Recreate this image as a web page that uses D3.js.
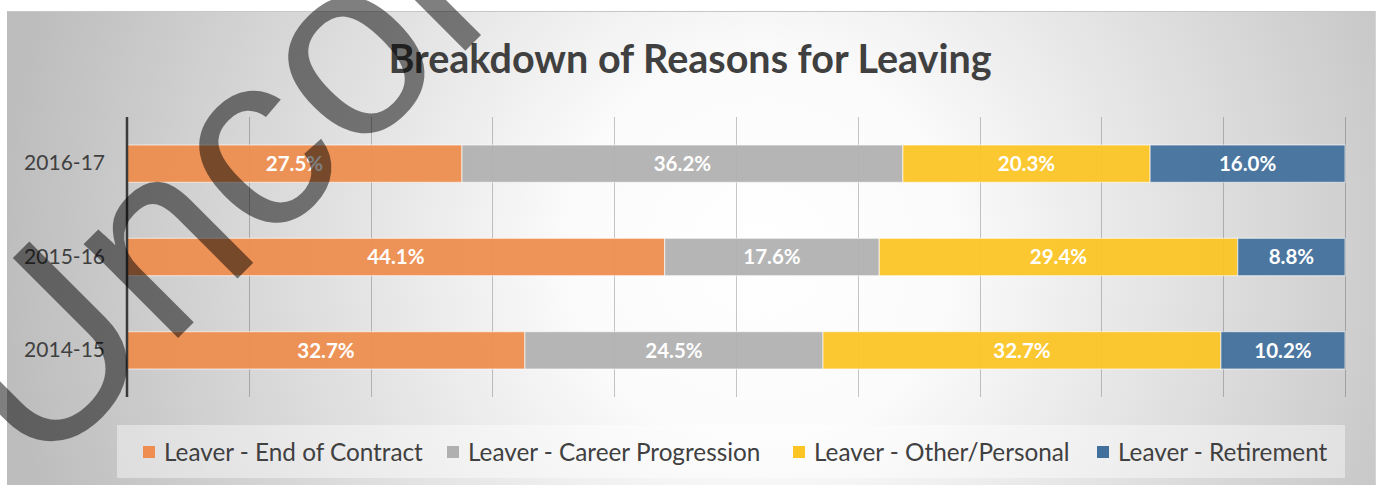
<!DOCTYPE html>
<html>
<head>
<meta charset="utf-8">
<script src="https://cdn.jsdelivr.net/npm/d3@7"></script>
<style>
  html, body { margin: 0; padding: 0; background: #ffffff; }
  svg { display: block; }
</style>
</head>
<body>
<svg id="chart" width="1379" height="485"></svg>
<script>
// ---- data ----
const categories = ["2016-17", "2015-16", "2014-15"];
const seriesNames = ["Leaver - End of Contract", "Leaver - Career Progression", "Leaver - Other/Personal", "Leaver - Retirement"];
const endOfContract = [27.5, 44.1, 32.7];
const careerProgression = [36.2, 17.6, 24.5];
const otherPersonal = [20.3, 29.4, 32.7];
const retirement = [16.0, 8.8, 10.2];
const gridTicks = [0, 0.1, 0.2, 0.3, 0.4, 0.5, 0.6, 0.7, 0.8, 0.9, 1.0];
const titleText = "Breakdown of Reasons for Leaving";
const watermarkText = "Uncontrolled";

const colors = ["#EE8D4F", "#B0B0B0", "#FCC524", "#41709C"];
const seriesValues = [endOfContract, careerProgression, otherPersonal, retirement];

const rows = categories.map((c, i) => {
  const r = { category: c };
  seriesNames.forEach((s, j) => r[s] = seriesValues[j][i]);
  return r;
});

const stacked = d3.stack().keys(seriesNames).offset(d3.stackOffsetExpand)(rows);

const svg = d3.select("#chart");
const W = 1379, H = 485;
const font = "Lato, 'Open Sans', sans-serif";

// background
const defs = svg.append("defs");
const grad = defs.append("radialGradient")
  .attr("id", "bg").attr("gradientUnits", "userSpaceOnUse")
  .attr("cx", 760).attr("cy", 250).attr("r", 760);
grad.append("stop").attr("offset", "0").attr("stop-color", "#ffffff");
grad.append("stop").attr("offset", "0.25").attr("stop-color", "#fbfbfb");
grad.append("stop").attr("offset", "1").attr("stop-color", "#bdbdbd");

svg.append("rect").attr("x", 7).attr("y", 11).attr("width", 1368).attr("height", H - 11)
  .attr("fill", "url(#bg)");
svg.append("line").attr("x1", 7).attr("x2", 1375).attr("y1", 11.5).attr("y2", 11.5)
  .attr("stroke", "#c6c6c6").attr("stroke-width", 1);
svg.append("line").attr("x1", 1375.5).attr("x2", 1375.5).attr("y1", 11).attr("y2", H)
  .attr("stroke", "#d4d4d4").attr("stroke-width", 1);

// scales
const x = d3.scaleLinear().domain([0, 1]).range([127, 1345]);
const y = d3.scaleBand().domain(categories).range([117, 397]).paddingInner(0.6).paddingOuter(0.3);

// gridlines
svg.append("g").selectAll("line").data(gridTicks.slice(1)).join("line")
  .attr("x1", d => Math.round(x(d)) + 0.5).attr("x2", d => Math.round(x(d)) + 0.5)
  .attr("y1", 117).attr("y2", 397)
  .attr("stroke", "rgba(0,0,0,0.22)").attr("stroke-width", 1);

// title
svg.append("text").attr("x", 690).attr("y", 73).attr("text-anchor", "middle")
  .attr("font-family", font).attr("font-weight", 700).attr("font-size", 39.5)
  .attr("fill", "#404040").text(titleText);

// bars
const layer = svg.append("g").selectAll("g").data(stacked).join("g")
  .attr("fill", (d, i) => colors[i]);
layer.selectAll("rect").data(d => d.map(v => ({ v, cat: v.data.category }))).join("rect")
  .attr("x", d => x(d.v[0]))
  .attr("width", d => x(d.v[1]) - x(d.v[0]))
  .attr("y", d => y(d.cat))
  .attr("height", y.bandwidth())
  .attr("fill-opacity", 0.94)
  .attr("stroke", "rgba(255,255,255,0.55)").attr("stroke-width", 1.2);

// labels
const labelG = svg.append("g");
stacked.forEach((s, j) => {
  labelG.selectAll(null).data(s).join("text")
    .attr("x", d => (x(d[0]) + x(d[1])) / 2)
    .attr("y", d => y(d.data.category) + y.bandwidth() / 2)
    .attr("dy", "0.36em")
    .attr("text-anchor", "middle")
    .attr("font-family", font).attr("font-weight", 700).attr("font-size", 20.5)
    .attr("fill", "#ffffff")
    .text(d => d.data[s.key].toFixed(1) + "%");
});

// y axis
const yAxis = d3.axisLeft(y).tickSize(0).tickPadding(22);
const ya = svg.append("g").attr("transform", "translate(127,0)").call(yAxis);
ya.select(".domain").remove();
ya.selectAll("text").attr("font-family", font).attr("font-size", 21).attr("fill", "#404040");
svg.append("line").attr("x1", 127).attr("x2", 127).attr("y1", 117).attr("y2", 397)
  .attr("stroke", "#3a3a3a").attr("stroke-width", 2.5);

// legend
svg.append("rect").attr("x", 117).attr("y", 425).attr("width", 1228).attr("height", 53)
  .attr("fill", "rgba(255,255,255,0.42)");
const legendX = [143, 447, 793, 1097];
const lg = svg.append("g").selectAll("g").data(seriesNames).join("g")
  .attr("transform", (d, i) => `translate(${legendX[i]},452)`);
lg.append("rect").attr("x", 0).attr("y", -6).attr("width", 12).attr("height", 12)
  .attr("fill", (d, i) => colors[i]);
lg.append("text").attr("x", 21).attr("y", 0).attr("dy", "0.36em")
  .attr("font-family", font).attr("font-size", 24.3).attr("fill", "#404040")
  .text(d => d);

// watermark
svg.append("text")
  .attr("transform", "translate(37,479) rotate(-45)")
  .attr("font-family", "'Liberation Sans', Arial, sans-serif")
  .attr("font-size", 252)
  .attr("fill", "#000000").attr("fill-opacity", 0.5)
  .text(watermarkText);
</script>
</body>
</html>
